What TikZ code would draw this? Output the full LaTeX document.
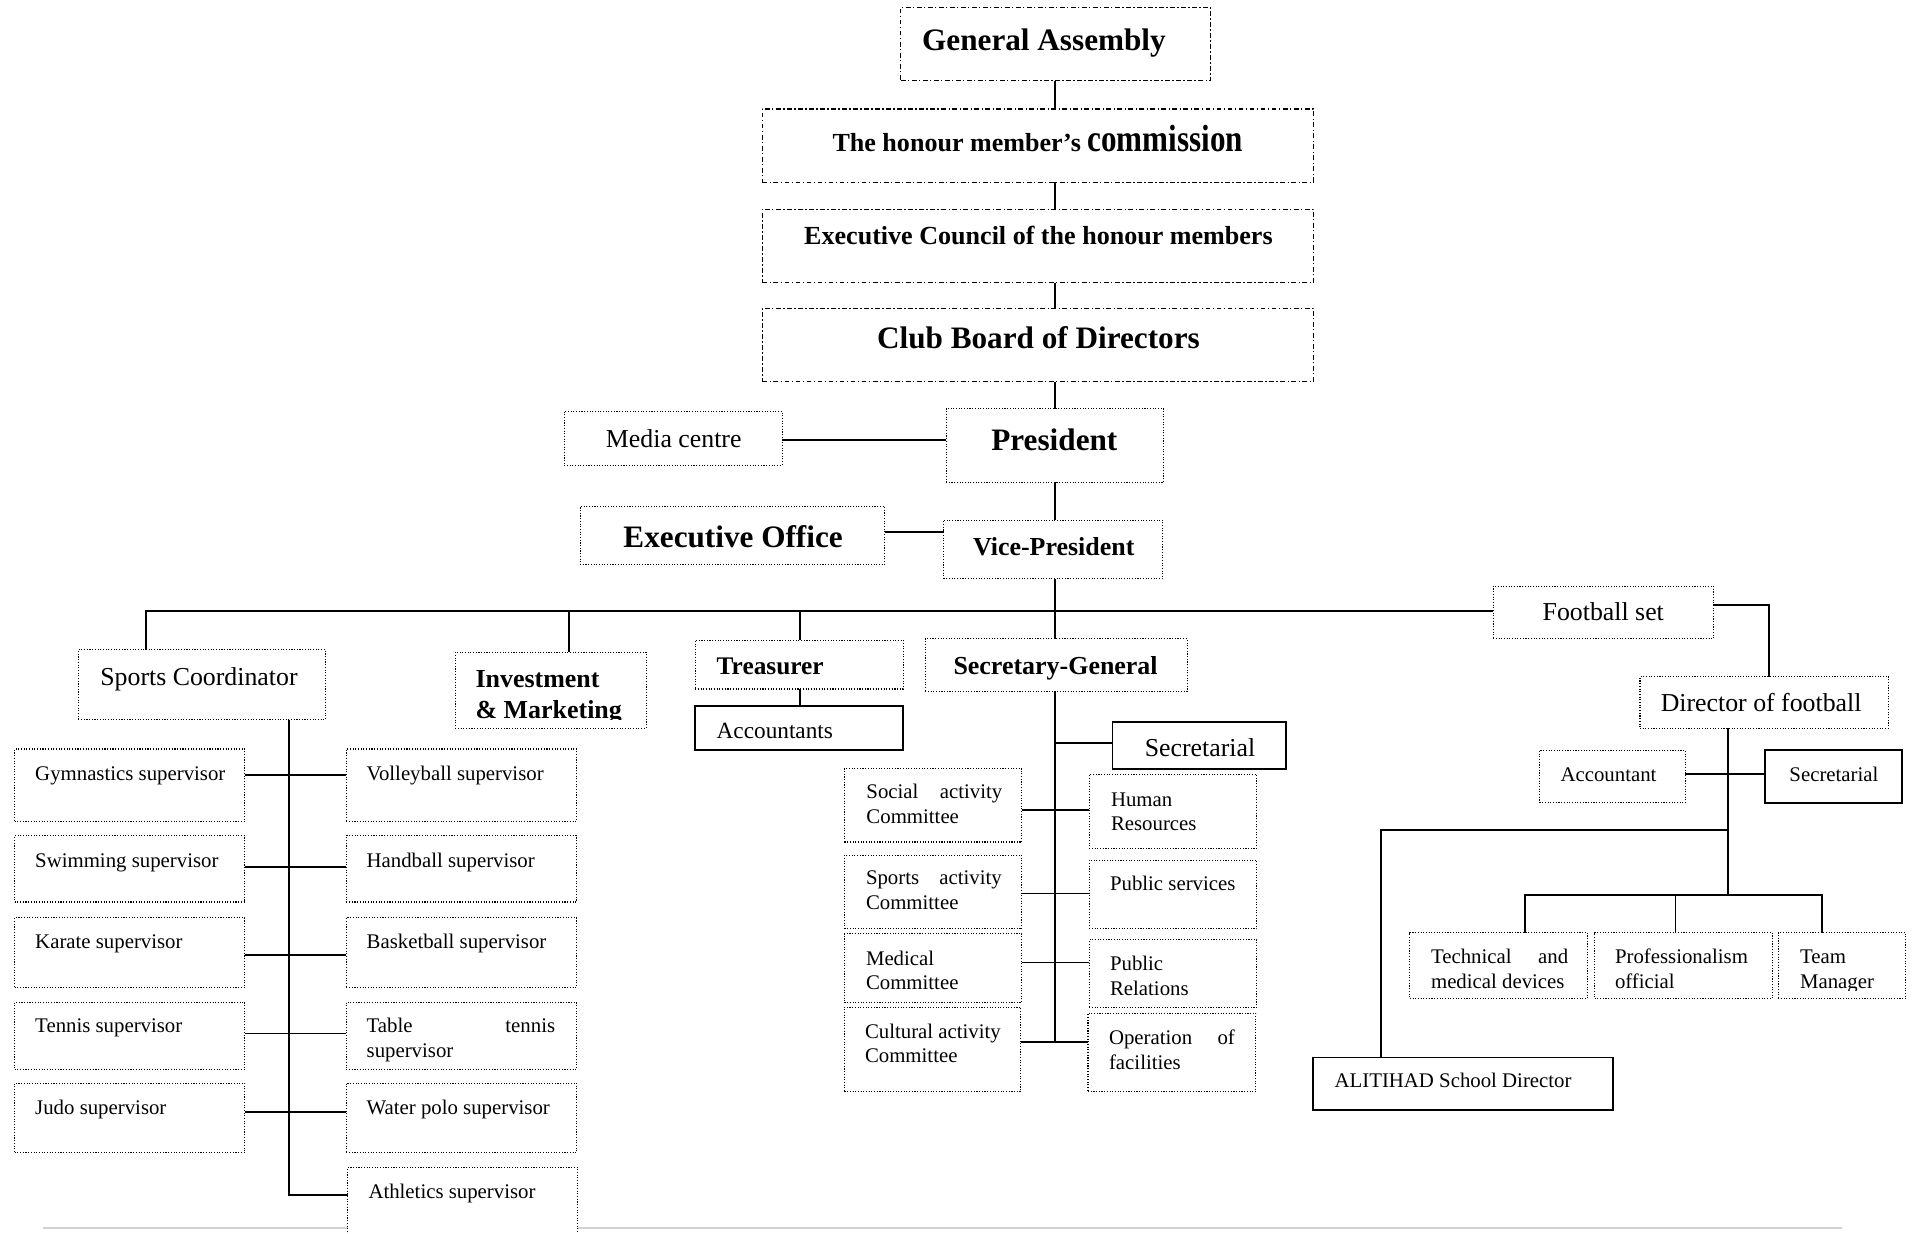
\documentclass[tikz,border=0pt]{standalone}
\usepackage{fontspec}
\setmainfont{Liberation Serif}
\usepackage{graphicx}

% empty box node: style, name, x1, y1, x2, y2
\newcommand\orgbox[6]{%
  \node[#1, anchor=north west, minimum width={#5-#3}, minimum height={#6-#4}] (#2) at (#3,#4) {};}

\begin{document}
\begin{tikzpicture}[x=1pt,y=-1pt,
  boxbase/.style={fill=white, inner sep=0pt, outer sep=0pt},
  dashdot/.style={boxbase, draw, line width=1pt, dash pattern=on 4pt off 2pt on 1pt off 2pt},
  dotbox/.style={boxbase, draw, line width=0.9pt, dash pattern=on 0.9pt off 1.3pt},
  solidbox/.style={boxbase, draw, line width=1.5pt},
  conn/.style={line width=1.5pt},
  t/.style={inner sep=0pt, outer sep=0pt},
  bigbold/.style={t, font=\fontsize{25.5}{30}\selectfont\bfseries},
  midbold/.style={t, font=\fontsize{21.2}{25.4}\selectfont\bfseries},
  midreg/.style={t, font=\fontsize{21.1}{25}\selectfont},
  smallreg/.style={t, font=\fontsize{17}{20}\selectfont},
]
\useasboundingbox (0,0) rectangle (1568,1008);

% thin grey rule along the foot of the page
\coordinate (rule-a) at (35,1003);
\coordinate (rule-b) at (1505,1003);
\draw[gray!35, line width=1.6pt] (rule-a) -- (rule-b);

% ---------- governing bodies ----------
\orgbox{dashdot}{ga}{736}{6}{989}{66}
\orgbox{dashdot}{hon}{623}{89}{1073}{149}
\orgbox{dashdot}{exc}{623}{171}{1073}{231}
\orgbox{dashdot}{cbd}{623}{252}{1073}{312}

% ---------- executive ----------
\orgbox{dotbox}{med}{461}{336}{639}{380}
\orgbox{dotbox}{pres}{773}{334}{951}{394}
\orgbox{dotbox}{eo}{474}{414}{723}{461}
\orgbox{dotbox}{vp}{771}{425}{950}{473}

% ---------- departments ----------
\orgbox{dotbox}{sc}{64}{531}{266}{588}
\orgbox{dotbox}{inv}{372}{533}{528}{595}
\orgbox{dotbox}{tr}{568}{523}{738}{563}
\orgbox{solidbox}{acc}{568}{577}{738}{613}
\orgbox{dotbox}{sg}{756}{522}{970}{565}
\orgbox{solidbox}{sec}{909}{590}{1051}{628}
\orgbox{dotbox}{fb}{1220}{479}{1400}{522}
\orgbox{dotbox}{dir}{1340}{553}{1543}{595}

% ---------- sports supervisors ----------
\orgbox{dotbox}{gym}{12}{612}{200}{671}
\orgbox{dotbox}{swim}{12}{683}{200}{737}
\orgbox{dotbox}{kar}{12}{750}{200}{807}
\orgbox{dotbox}{ten}{12}{819}{200}{874}
\orgbox{dotbox}{judo}{12}{885}{200}{942}
\orgbox{dotbox}{vol}{283}{612}{471}{671}
\orgbox{dotbox}{hand}{283}{683}{471}{737}
\orgbox{dotbox}{bask}{283}{750}{471}{807}
\orgbox{dotbox}{tt}{283}{819}{471}{874}
\orgbox{dotbox}{wp}{283}{885}{471}{942}
\orgbox{dotbox}{ath}{284}{954}{472}{1030}

% ---------- secretariat committees ----------
\orgbox{dotbox}{soc}{690}{628}{835}{688}
\orgbox{dotbox}{spa}{690}{699}{835}{759}
\orgbox{dotbox}{medc}{690}{763}{835}{819}
\orgbox{dotbox}{cul}{690}{823}{834}{892}
\orgbox{dotbox}{hr}{890}{633}{1027}{693}
\orgbox{dotbox}{ps}{890}{703}{1027}{759}
\orgbox{dotbox}{pr}{890}{768}{1027}{823}
\orgbox{dotbox}{op}{889}{828}{1026}{892}

% ---------- football ----------
\orgbox{dotbox}{acf}{1258}{613}{1377}{656}
\orgbox{solidbox}{secf}{1442}{613}{1554}{656}
\orgbox{dotbox}{tech}{1152}{762}{1297}{816}
\orgbox{dotbox}{prof}{1303}{762}{1448}{816}
\orgbox{dotbox}{team}{1453}{762}{1557}{816}
\orgbox{solidbox}{ali}{1073}{864}{1318}{907}

% ---------- connector columns and rows ----------
\coordinate (sp) at (862,0);
\coordinate (csc) at (119,0);
\coordinate (cinv) at (465,0);
\coordinate (ctr) at (653.5,0);
\coordinate (csv) at (236,0);
\coordinate (cfb) at (1445.5,0);
\coordinate (cdir) at (1412,0);
\coordinate (cali) at (1128.5,0);
\coordinate (ctech) at (1246,0);
\coordinate (cprof) at (1369,0);
\coordinate (cteam) at (1489,0);
\coordinate (rmed) at (0,359.5);
\coordinate (reo) at (0,434.5);
\coordinate (rbus) at (0,499.5);
\coordinate (rfb) at (0,494);
\coordinate (rsec) at (0,607);
\coordinate (ras) at (0,632.5);
\coordinate (rali) at (0,678.5);
\coordinate (rteam) at (0,731.5);
\coordinate (rs1) at (0,633);
\coordinate (rs2) at (0,708.5);
\coordinate (rs3) at (0,780);
\coordinate (rs4) at (0,844.5);
\coordinate (rs5) at (0,908.5);
\coordinate (rs6) at (0,976.5);
\coordinate (rc1) at (0,661.5);
\coordinate (rc2) at (0,730);
\coordinate (rc3) at (0,786.5);
\coordinate (rc4) at (0,851.5);

% ---------- connectors ----------
\draw[conn] (ga.south -| sp) -- (hon.north -| sp);
\draw[conn] (hon.south -| sp) -- (exc.north -| sp);
\draw[conn] (exc.south -| sp) -- (cbd.north -| sp);
\draw[conn] (cbd.south -| sp) -- (pres.north -| sp);
\draw[conn] (med.east |- rmed) -- (pres.west |- rmed);
\draw[conn] (pres.south -| sp) -- (vp.north -| sp);
\draw[conn] (eo.east |- reo) -- (vp.west |- reo);
\draw[conn] (vp.south -| sp) -- (sg.north -| sp);
\draw[conn] (sc.north -| csc) -- (csc |- rbus) -- (fb.west |- rbus);
\draw[conn] (inv.north -| cinv) -- (cinv |- rbus);
\draw[conn] (tr.north -| ctr) -- (ctr |- rbus);
\draw[conn] (tr.south -| ctr) -- (acc.north -| ctr);

\draw[conn] (sc.south -| csv) -- (csv |- rs6) -- (ath.west |- rs6);
\foreach \a/\b/\r in {gym/vol/rs1, swim/hand/rs2, kar/bask/rs3, ten/tt/rs4, judo/wp/rs5}
  \draw[conn] (\a.east |- \r) -- (\b.west |- \r);

\draw[conn] (sg.south -| sp) -- (sp |- rc4);
\draw[conn] (sp |- rsec) -- (sec.west |- rsec);
\foreach \a/\b/\r in {soc/hr/rc1, spa/ps/rc2, medc/pr/rc3, cul/op/rc4}
  \draw[conn] (\a.east |- \r) -- (\b.west |- \r);

\draw[conn] (fb.east |- rfb) -- (cfb |- rfb) -- (dir.north -| cfb);
\draw[conn] (dir.south -| cdir) -- (cdir |- rteam);
\draw[conn] (acf.east |- ras) -- (secf.west |- ras);
\draw[conn] (cdir |- rali) -- (cali |- rali) -- (ali.north -| cali);
\draw[conn] (tech.north -| ctech) -- (ctech |- rteam) -- (cteam |- rteam) -- (team.north -| cteam);
\draw[conn] (prof.north -| cprof) -- (cprof |- rteam);

% ---------- labels ----------
\node[bigbold, anchor=base] (ga-t) at (853,41) {General Assembly};
\node[t, anchor=base, font=\fontsize{21.3}{25}\selectfont\bfseries] (hon-t) at (848,124)
  {The honour member's \scalebox{0.82}[1]{\fontsize{31}{31}\selectfont commission}};
\node[t, anchor=base, font=\fontsize{21.3}{25}\selectfont\bfseries] (exc-t) at (848.5,200)
  {Executive Council of the honour members};
\node[bigbold, anchor=base] (cbd-t) at (848.5,285) {Club Board of Directors};

\node[midreg, anchor=base] (med-t) at (550.5,366) {Media centre};
\node[bigbold, anchor=base] (pres-t) at (861.5,368) {President};
\node[bigbold, anchor=base] (eo-t) at (599,447) {Executive Office};
\node[midbold, anchor=base] (vp-t) at (861,454) {Vice-President};

\node[midreg, anchor=base west] (sc-t) at (82,560.5) {Sports Coordinator};
\begin{scope}
  \clip (372,533) rectangle (528,587.8);
  \node[midbold, anchor=base west] (inv-t) at (388.6,561.6)
    {\parbox[t]{130pt}{\raggedright Investment\\ \& Marketing}};
\end{scope}
\node[midbold, anchor=base west, font=\fontsize{20.7}{25}\selectfont\bfseries] (tr-t) at (585.6,551.5) {Treasurer};
\node[t, anchor=base west, font=\fontsize{19}{22}\selectfont] (acc-t) at (585.6,603.3) {Accountants};
\node[midbold, anchor=base] (sg-t) at (862.5,551.5) {Secretary-General};
\node[midreg, anchor=base] (sec-t) at (980.5,618) {Secretarial};

% supervisors
\node[smallreg, anchor=base west] (gym-t) at (28.8,638) {Gymnastics supervisor};
\node[smallreg, anchor=base west] (swim-t) at (28.8,709) {Swimming supervisor};
\node[smallreg, anchor=base west] (kar-t) at (28.8,775) {Karate supervisor};
\node[smallreg, anchor=base west] (ten-t) at (28.8,843.8) {Tennis supervisor};
\node[smallreg, anchor=base west] (judo-t) at (28.8,910.5) {Judo supervisor};
\node[smallreg, anchor=base west] (vol-t) at (299.6,638) {Volleyball supervisor};
\node[smallreg, anchor=base west] (hand-t) at (299.6,709) {Handball supervisor};
\node[smallreg, anchor=base west] (bask-t) at (299.6,775) {Basketball supervisor};
\node[smallreg, anchor=base west] (tt-t) at (299.6,843.8)
  {\parbox[t]{154pt}{Table\hfill tennis\\supervisor}};
\node[smallreg, anchor=base west] (wp-t) at (299.6,910.5) {Water polo supervisor};
\node[smallreg, anchor=base west] (ath-t) at (301.1,979.3) {Athletics supervisor};

% committees
\node[smallreg, anchor=base west] (soc-t) at (708,652.8)
  {\parbox[t]{111pt}{Social\hfill activity\\Committee}};
\node[smallreg, anchor=base west] (spa-t) at (707.6,723)
  {\parbox[t]{111pt}{Sports\hfill activity\\Committee}};
\node[smallreg, anchor=base west] (medc-t) at (707.6,788.5)
  {\parbox[t]{111pt}{Medical\\Committee}};
\node[smallreg, anchor=base west] (cul-t) at (706.8,848.4)
  {\parbox[t]{112pt}{Cultural activity\\Committee}};
\node[smallreg, anchor=base west] (hr-t) at (907.8,658.6)
  {\parbox[t]{102pt}{Human\\Resources}};
\node[smallreg, anchor=base west] (ps-t) at (907,727.8) {Public services};
\node[smallreg, anchor=base west] (pr-t) at (907,793.1)
  {\parbox[t]{102pt}{Public\\Relations}};
\node[smallreg, anchor=base west] (op-t) at (906.2,853.8)
  {\parbox[t]{102.8pt}{Operation\hfill of\\facilities}};

% football
\node[midreg, anchor=base] (fb-t) at (1310,507) {Football set};
\node[midreg, anchor=base] (dir-t) at (1439,581.5) {Director of football};
\node[smallreg, anchor=base] (acf-t) at (1314.3,638.7) {Accountant};
\node[smallreg, anchor=base] (secf-t) at (1498.5,638.7) {Secretarial};
\node[t, anchor=base west, font=\fontsize{17}{20.6}\selectfont] (tech-t) at (1169.3,787.2)
  {\parbox[t]{112pt}{Technical\hfill and\\medical devices}};
\node[t, anchor=base west, font=\fontsize{17}{20.6}\selectfont] (prof-t) at (1319.6,787.2)
  {\parbox[t]{112pt}{Professionalism\\official}};
\begin{scope}
  \clip (1453,762) rectangle (1557,809);
  \node[t, anchor=base west, font=\fontsize{17}{20.6}\selectfont] (team-t) at (1470.8,787.2)
    {\parbox[t]{80pt}{Team\\Manager}};
\end{scope}
\node[smallreg, anchor=base west] (ali-t) at (1090.5,888.3) {ALITIHAD School Director};

\end{tikzpicture}
\end{document}
